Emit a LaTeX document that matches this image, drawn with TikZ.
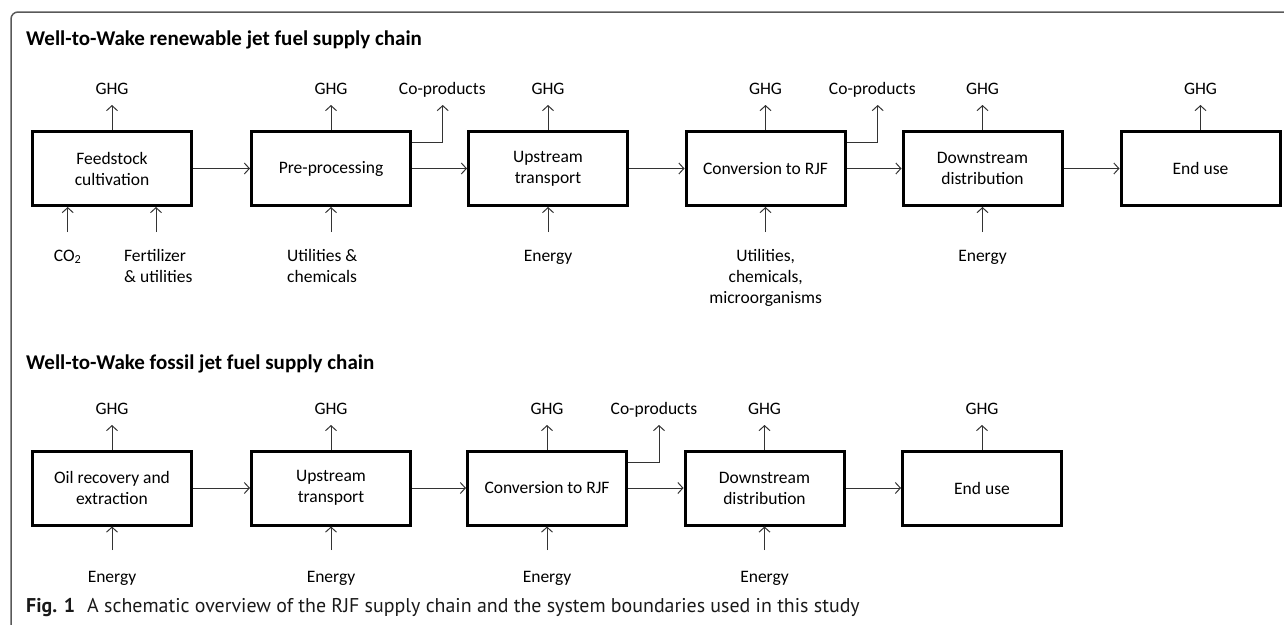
\documentclass[tikz,border=0pt]{standalone}
\usepackage{fontspec}
\setmainfont{Carlito}
\newfontfamily\capfont{PT Sans}
\usetikzlibrary{arrows.meta}
\newcommand\lblfont{\fontsize{17.5}{21}\selectfont}
\newcommand\ttlfont{\fontsize{21}{25}\selectfont\bfseries}
\newcommand\capsize{\fontsize{19.9}{24}\selectfont}
\begin{document}
\begin{tikzpicture}[x=1pt,y=-1pt,
  box/.style={draw=black,line width=3pt,minimum width=159pt,minimum height=74pt,inner sep=0pt,align=center,font=\lblfont},
  lbl/.style={inner sep=0pt,font=\lblfont,text=black},
  ttl/.style={inner sep=0pt,font=\ttlfont,anchor=base west},
  arr/.style={draw=black!80,line width=1pt,-{Straight Barb[length=5pt,width=11pt]}},
  frame/.style={draw=black!65,line width=1.5pt,rounded corners=7pt}]
\useasboundingbox (0,0) rectangle (1284,624);
% frame
\draw[frame] (11,630) -- (11,12) -- (1290,12);
% titles
\node[ttl] (t1) at (26,45) {Well-to-Wake renewable jet fuel supply chain};
\node[ttl] (t2) at (26,369) {Well-to-Wake fossil jet fuel supply chain};
% ---------- top row ----------
\node[box] (T1) at (112,168.5) {Feedstock\\cultivation};
\node[box] (T2) at (331,168.5) {Pre-processing};
\node[box] (T3) at (548,168.5) {Upstream\\transport};
\node[box] (T4) at (765.5,168.5) {Conversion to RJF};
\node[box] (T5) at (982.5,168.5) {Downstream\\distribution};
\node[box] (T6) at (1200.5,168.5) {End use};
\foreach \a/\b in {T1/T2,T2/T3,T3/T4,T4/T5,T5/T6}{\draw[arr] (\a.east) -- (\b.west);}
% GHG top
\foreach \n/\x in {1/112,2/331,3/548,4/765.5,5/982.5,6/1200.5}{
  \coordinate (tg\n) at (\x,105);
  \node[lbl,anchor=base] (tgl\n) at (\x,94.3) {GHG};
  \draw[arr] (T\n.north) -- (tg\n);
}
% co-products top
\coordinate (tcp1) at (442.7,105);
\coordinate (tcp2) at (877.7,105);
\node[lbl,anchor=base] (tcpl1) at (442.3,94.3) {Co-products};
\node[lbl,anchor=base] (tcpl2) at (872.3,94.3) {Co-products};
\draw[arr] ([yshift=26pt]T2.east) -| (tcp1);
\draw[arr] ([yshift=26pt]T4.east) -| (tcp2);
% inputs top
\coordinate (ti1) at (67.7,232);
\coordinate (ti2) at (156,232);
\coordinate (ti3) at (331,232);
\coordinate (ti4) at (548,232);
\coordinate (ti5) at (765.5,232);
\coordinate (ti6) at (982.5,232);
\draw[arr] (ti1) -- (ti1 |- T1.south);
\draw[arr] (ti2) -- (ti2 |- T1.south);
\draw[arr] (ti3) -- (T2.south);
\draw[arr] (ti4) -- (T3.south);
\draw[arr] (ti5) -- (T4.south);
\draw[arr] (ti6) -- (T5.south);
\node[lbl,anchor=base] (til1) at (67.7,261) {CO\textsubscript{2}};
\node[lbl,anchor=north west,align=left] (til2) at (124,249) {Fertilizer\\\& utilities};
\node[lbl,anchor=north west,align=left] (til3) at (287,249) {Utilities \&\\chemicals};
\node[lbl,anchor=base] (til4) at (548,261) {Energy};
\node[lbl,anchor=north,align=center] (til5) at (765.7,249) {Utilities,\\chemicals,\\microorganisms};
\node[lbl,anchor=base] (til6) at (982.5,261) {Energy};
% ---------- bottom row ----------
\node[box] (B1) at (112,488) {Oil recovery and\\extraction};
\node[box] (B2) at (331,488) {Upstream\\transport};
\node[box] (B3) at (547,488) {Conversion to RJF};
\node[box] (B4) at (764.5,488) {Downstream\\distribution};
\node[box] (B5) at (982,488) {End use};
\foreach \a/\b in {B1/B2,B2/B3,B3/B4,B4/B5}{\draw[arr] (\a.east) -- (\b.west);}
\foreach \n/\x in {1/112,2/331,3/547,4/764.5,5/982}{
  \coordinate (bg\n) at (\x,425);
  \node[lbl,anchor=base] (bgl\n) at (\x,414.3) {GHG};
  \draw[arr] (B\n.north) -- (bg\n);
}
\foreach \n/\x in {1/112,2/331,3/547,4/764.5}{
  \coordinate (be\n) at (\x,550);
  \node[lbl,anchor=base] (bel\n) at (\x,582) {Energy};
  \draw[arr] (be\n) -- (B\n.south);
}
\coordinate (bcp) at (659,425);
\node[lbl,anchor=base] (bcpl) at (654,414.3) {Co-products};
\draw[arr] ([yshift=26pt]B3.east) -| (bcp);
% caption
\node[inner sep=0pt,anchor=base west,font=\capfont\capsize,text=black!90] (cap) at (26,612)
  {\textbf{Fig. 1}\hspace{12pt}A schematic overview of the RJF supply chain and the system boundaries used in this study};
\end{tikzpicture}
\end{document}
